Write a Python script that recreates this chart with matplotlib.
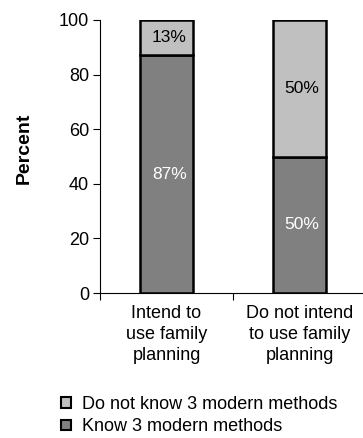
import matplotlib
matplotlib.use("Agg")
import matplotlib.pyplot as plt
import numpy as np
from matplotlib.patches import Patch

plt.rcParams['font.family'] = ['Liberation Sans', 'DejaVu Sans']

categories = ["Intend to\nuse family\nplanning", "Do not intend\nto use family\nplanning"]
know = [87, 50]
not_know = [13, 50]
series_names = ["Do not know 3 modern methods", "Know 3 modern methods"]

dark = "#808080"
light = "#c0c0c0"

W, H = 363, 438
fig = plt.figure(figsize=(W / 100, H / 100), dpi=100)
ax = fig.add_axes([100 / W, 1 - 293 / H, 266 / W, 273 / H])

x = np.arange(len(categories))
w = 0.4
ax.bar(x, know, width=w, color=dark, edgecolor="black", linewidth=1.8)
ax.bar(x, not_know, width=w, bottom=know, color=light, edgecolor="black", linewidth=1.8)

for xi, k, n in zip(x, know, not_know):
    ax.text(xi + 0.02, k / 2, f"{k}%", ha="center", va="center", color="white", fontsize=12.5)
    ax.text(xi + 0.02, k + n / 2, f"{n}%", ha="center", va="center", color="black", fontsize=12.5)

ax.set_xlim(-0.5, 1.5)
ax.set_ylim(0, 100)
ax.set_yticks(range(0, 101, 20))
ax.tick_params(axis="y", labelsize=13, length=5, direction="out", width=0.8, pad=3)
ax.set_xticks([-0.5, 0.5, 1.5])
ax.set_xticklabels([])
ax.tick_params(axis="x", length=5, direction="out", width=0.8)
ax.set_xticks(x, minor=True)
ax.set_xticklabels(categories, minor=True, fontsize=13, linespacing=1.3)
ax.tick_params(axis="x", which="minor", length=0, pad=9)

for s in ["top", "right"]:
    ax.spines[s].set_visible(False)
for s in ["left", "bottom"]:
    ax.spines[s].set_linewidth(0.8)

fig.text(24 / W, 1 - 148 / H, "Percent", rotation=90, ha="center", va="center",
         fontsize=14, fontweight="bold")

handles = [Patch(facecolor=light, edgecolor="black", linewidth=1.5),
           Patch(facecolor=dark, edgecolor="black", linewidth=1.5)]
fig.legend(handles, series_names, loc="upper left", bbox_to_anchor=(61 / W, 1 - 396 / H),
           frameon=False, fontsize=13, handlelength=0.55, handleheight=0.55,
           handletextpad=0.6, labelspacing=0.3, borderaxespad=0, borderpad=0)

fig.savefig("out.png", dpi=100)
